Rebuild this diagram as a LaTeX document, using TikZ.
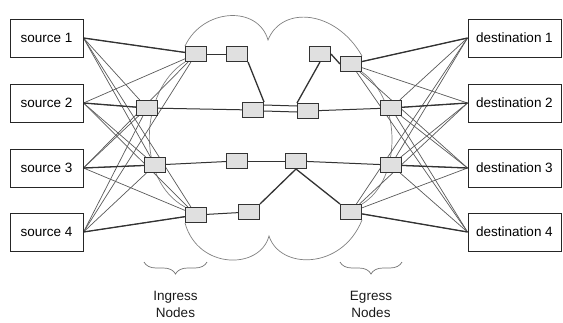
\documentclass[tikz,border=0pt]{standalone}
\usepackage{fontspec}
\setmainfont{Liberation Sans}
\usetikzlibrary{backgrounds,decorations.pathreplacing}
\begin{document}
\begin{tikzpicture}[x=1pt,y=-1pt,
 endbox/.style={draw=black!85,line width=1pt,minimum width=73pt,minimum height=38pt,inner sep=0pt,font=\fontsize{13.5}{16}\selectfont,text=black},
 rnode/.style={draw=black!80,fill=black!12,line width=1pt,minimum width=21pt,minimum height=15pt,inner sep=0pt},
 mainlink/.style={draw=black!80,line width=1.3pt},
 meshlink/.style={draw=black!65,line width=0.7pt},
 corelink/.style={draw=black!80,line width=1pt},
 cloudline/.style={draw=black!50,line width=0.7pt},
 bracestyle/.style={draw=black!55,line width=0.7pt,decorate,decoration={brace,mirror,amplitude=12pt}},
 lbl/.style={font=\fontsize{13.5}{17}\selectfont,align=center,text=black!90}
]
\useasboundingbox (0,0) rectangle (563,322);

% end boxes
\node[endbox] (s1) at (46.5,38) {source 1};
\node[endbox] (s2) at (46.5,103) {source 2};
\node[endbox] (s3) at (46.5,168) {source 3};
\node[endbox] (s4) at (46.5,232) {source 4};
\node[endbox,minimum width=93pt] (d1) at (514.5,38) {destination 1};
\node[endbox,minimum width=93pt] (d2) at (514.5,103) {destination 2};
\node[endbox,minimum width=93pt] (d3) at (514.5,168) {destination 3};
\node[endbox,minimum width=93pt] (d4) at (514.5,232) {destination 4};

% ingress nodes
\node[rnode] (i1) at (196,54) {};
\node[rnode] (i2) at (147,108) {};
\node[rnode] (i3) at (155,165) {};
\node[rnode] (i4) at (196,215) {};
% core nodes
\node[rnode] (c1) at (237,54) {};
\node[rnode] (c2) at (253,110) {};
\node[rnode] (c3) at (237,161) {};
\node[rnode] (c4) at (249,212) {};
\node[rnode] (c5) at (320,54) {};
\node[rnode] (c6) at (308,111) {};
\node[rnode] (c7) at (296,161) {};
% egress nodes
\node[rnode] (e1) at (351,64) {};
\node[rnode] (e2) at (391,108) {};
\node[rnode] (e3) at (391,165) {};
\node[rnode] (e4) at (351,212) {};

\begin{scope}[on background layer]
 % cloud outline
 \draw[cloudline] (i1.north west) .. controls (203,8) and (258,5) .. (268,40)
   .. controls (282,5) and (336,10) .. (e1.north east);
 \draw[cloudline] (i4.south west) .. controls (198,270) and (260,270) .. (269,236)
   .. controls (280,270) and (342,270) .. (e4.south east);
 \draw[cloudline] (i1.south west) .. controls (140,90) and (135,180) .. (i4.north west);
 \draw[cloudline] (e1.south east) .. controls (402,100) and (402,180) .. (e4.north east);

 % source and destination mesh
 \foreach \s in {1,...,4}{
   \foreach \n in {1,...,4}{
     \draw[meshlink] (s\s.east) -- (i\n);
     \draw[meshlink] (d\s.west) -- (e\n);
   }
 }
 \foreach \n in {1,...,4}{
   \draw[mainlink] (s\n.east) -- (i\n);
   \draw[mainlink] (d\n.west) -- (e\n);
 }

 % core links
 \draw[corelink] (i1) -- (c1);
 \draw[mainlink] (c1.south east) -- (c2.north east);
 \draw[corelink] (i2) -- (c2);
 \draw[corelink] ([yshift=5pt]c2.east) -- ([yshift=5pt]c6.west);
 \draw[corelink] ([yshift=-1pt]c2.east) -- ([yshift=-1pt]c6.west);
 \draw[mainlink] (c6.north west) -- (c5.south);
 \draw[mainlink] (c5.east) -- (e1.west);
 \draw[corelink] (c6) -- (e2);
 \draw[corelink] (i3) -- (c3);
 \draw[corelink] (c3) -- (c7);
 \draw[corelink] (c7) -- (e3);
 \draw[corelink] (i4) -- (c4);
 \draw[mainlink] (c4.north east) -- (c7.south);
 \draw[mainlink] (c7.south) -- (e4.north west);
\end{scope}

% braces and labels
\draw[bracestyle] (144,262) -- (207,262);
\draw[bracestyle] (340,262) -- (402,262);
\node[lbl] (ing) at (175.5,304.5) {Ingress\\Nodes};
\node[lbl] (egr) at (371,304.5) {Egress\\Nodes};
\end{tikzpicture}
\end{document}
